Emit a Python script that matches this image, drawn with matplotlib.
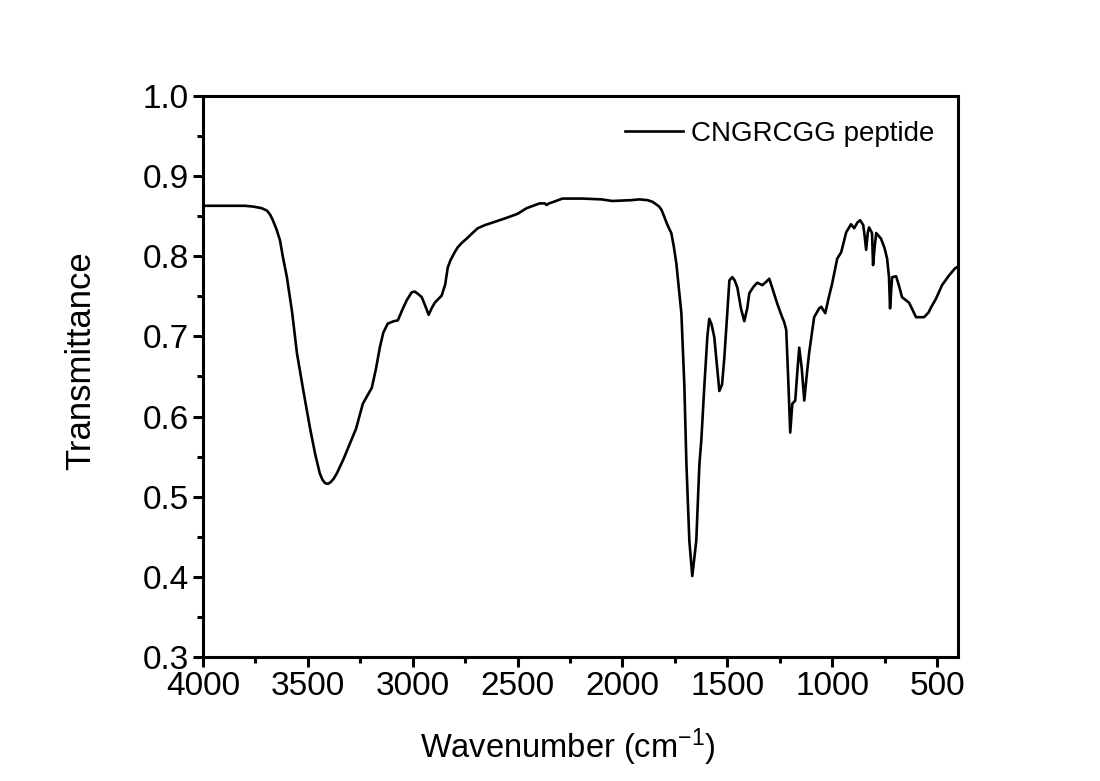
import matplotlib
matplotlib.use("Agg")
import matplotlib.pyplot as plt
from matplotlib.ticker import MultipleLocator, FormatStrFormatter

plt.rcParams['font.family'] = ['Liberation Sans', 'DejaVu Sans']
plt.rcParams['mathtext.default'] = 'regular'

wavenumber = [4000, 3900, 3800, 3760, 3720, 3695, 3680, 3667, 3650, 3633, 3619, 3600, 3575, 3552,
              3520, 3490, 3465, 3443, 3430, 3418, 3405, 3392, 3378, 3362, 3330, 3300, 3270, 3238,
              3195, 3175, 3157, 3140, 3119, 3090, 3071, 3050, 3029, 3005, 2990, 2970, 2957, 2940,
              2924, 2910, 2895, 2862, 2845, 2833, 2820, 2800, 2786, 2765, 2743, 2715, 2690, 2655,
              2620, 2552, 2500, 2457, 2395, 2370, 2362, 2350, 2333, 2286, 2190, 2100, 2048, 1960,
              1919, 1880, 1857, 1840, 1825, 1814, 1800, 1790, 1780, 1767, 1755, 1743, 1719, 1705,
              1695, 1681, 1667, 1648, 1633, 1624, 1610, 1595, 1586, 1575, 1562, 1550, 1538, 1525,
              1514, 1500, 1490, 1476, 1465, 1452, 1435, 1419, 1405, 1395, 1375, 1357, 1333, 1315,
              1300, 1285, 1262, 1240, 1229, 1219, 1210, 1200, 1190, 1176, 1165, 1157, 1145, 1133,
              1120, 1110, 1086, 1062, 1052, 1033, 1015, 1000, 976, 957, 933, 910, 895, 880, 867,
              852, 845, 838, 830, 824, 810, 805, 798, 790, 767, 750, 738, 729, 724, 718, 714, 695,
              680, 667, 633, 600, 562, 540, 529, 505, 476, 443, 414, 400]
transmittance = [0.863, 0.863, 0.863, 0.862, 0.860, 0.857, 0.852, 0.845, 0.834, 0.820, 0.799, 0.774,
                 0.730, 0.679, 0.630, 0.586, 0.553, 0.529, 0.521, 0.517, 0.516, 0.518, 0.522, 0.529,
                 0.547, 0.566, 0.585, 0.616, 0.636, 0.660, 0.686, 0.705, 0.716, 0.719, 0.720, 0.733,
                 0.745, 0.755, 0.756, 0.752, 0.749, 0.738, 0.727, 0.735, 0.742, 0.751, 0.765, 0.786,
                 0.795, 0.805, 0.811, 0.817, 0.822, 0.829, 0.835, 0.839, 0.842, 0.848, 0.853, 0.860,
                 0.866, 0.866, 0.864, 0.866, 0.8675, 0.872, 0.872, 0.871, 0.869, 0.870, 0.871, 0.870,
                 0.868, 0.865, 0.862, 0.858, 0.849, 0.842, 0.836, 0.829, 0.812, 0.791, 0.729, 0.640,
                 0.541, 0.445, 0.401, 0.445, 0.541, 0.570, 0.636, 0.700, 0.722, 0.715, 0.699, 0.665,
                 0.632, 0.640, 0.674, 0.730, 0.770, 0.774, 0.770, 0.761, 0.735, 0.719, 0.735, 0.754,
                 0.762, 0.767, 0.764, 0.768, 0.772, 0.760, 0.741, 0.725, 0.718, 0.708, 0.650, 0.580,
                 0.616, 0.620, 0.660, 0.686, 0.660, 0.620, 0.655, 0.679, 0.724, 0.735, 0.737, 0.729,
                 0.750, 0.766, 0.797, 0.805, 0.830, 0.840, 0.835, 0.842, 0.845, 0.839, 0.825, 0.808,
                 0.830, 0.836, 0.829, 0.789, 0.810, 0.829, 0.822, 0.810, 0.797, 0.774, 0.735, 0.760,
                 0.774, 0.775, 0.762, 0.749, 0.742, 0.724, 0.724, 0.730, 0.736, 0.747, 0.764, 0.776,
                 0.785, 0.787]
series_label = "CNGRCGG peptide"
x_label = "Wavenumber (cm$^{-1}$)"
y_label = "Transmittance"

fig = plt.figure(figsize=(11, 7.81), dpi=100)
ax = fig.add_axes([203/1100, 1-657/781, (958-203)/1100, (657-96)/781])
ax.plot(wavenumber, transmittance, color='black', lw=1.9, label=series_label,
        solid_joinstyle='round')

ax.set_xlim(4000, 400)
ax.set_ylim(0.3, 1.0)
ax.xaxis.set_major_locator(MultipleLocator(500))
ax.xaxis.set_minor_locator(MultipleLocator(250))
ax.yaxis.set_major_locator(MultipleLocator(0.1))
ax.yaxis.set_minor_locator(MultipleLocator(0.05))
ax.yaxis.set_major_formatter(FormatStrFormatter('%.1f'))

for s in ax.spines.values():
    s.set_linewidth(2.2)
ax.tick_params(which='major', direction='out', length=7, width=2.2, labelsize=24, pad=3)
ax.tick_params(which='minor', direction='out', length=4.5, width=2.2)
ax.tick_params(top=False, right=False, which='both')

ax.set_xlabel(x_label, fontsize=23.5)
ax.set_ylabel(y_label, fontsize=25)
ax.yaxis.set_label_coords((97-203)/755, (657-361)/561)
ax.xaxis.set_label_coords((568-203)/755, (657-727)/561)

ax.legend(loc='upper right', frameon=False, fontsize=20, handlelength=2.1,
          handletextpad=0.28, borderpad=0, borderaxespad=0,
          bbox_to_anchor=((934-203)/755, (657-121)/561))

fig.savefig("out.png", dpi=100, facecolor='white')
